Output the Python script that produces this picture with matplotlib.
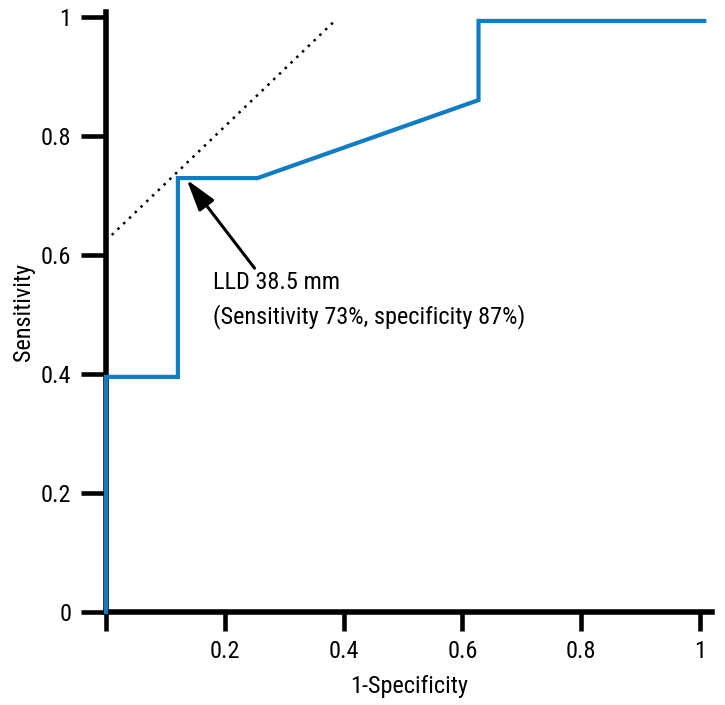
import matplotlib
matplotlib.use("Agg")
import matplotlib.pyplot as plt
from matplotlib import font_manager

# ROC curve points
fpr = [0.0, 0.0, 0.121, 0.121, 0.255, 0.627, 0.627, 1.007]
tpr = [0.0, 0.395, 0.395, 0.729, 0.729, 0.86, 0.993, 0.993]

# dotted tangent line
tan_x = [0.0, 0.387]
tan_y = [0.624, 0.995]

cut_x, cut_y = 0.133, 0.73
xticks = [0, 0.2, 0.4, 0.6, 0.8, 1]
xticklabels = ["", "0.2", "0.4", "0.6", "0.8", "1"]
yticks = [0, 0.2, 0.4, 0.6, 0.8, 1]
yticklabels = ["0", "0.2", "0.4", "0.6", "0.8", "1"]

# look for a condensed sans font, the original uses a narrow one
def is_narrow(f):
    st = str(f.stretch).lower()
    return "narrow" in f.name.lower() or "condensed" in f.name.lower() or "condensed" in st

order = ["Liberation Sans Narrow", "Roboto Condensed", "Roboto", "Noto Sans", "Open Sans", "DejaVu Sans"]
cands = [f for f in font_manager.fontManager.ttflist
         if is_narrow(f) and f.style == "normal" and str(f.weight) in ("400", "normal", "regular")
         and "semi" not in str(f.stretch).lower()]
cands.sort(key=lambda f: order.index(f.name) if f.name in order else 99)
if cands:
    fp = font_manager.FontProperties(fname=cands[0].fname)
else:
    fp = font_manager.FontProperties(family="DejaVu Sans", stretch="condensed")
fsize = 17.5

fig = plt.figure(figsize=(7.25, 7.05), dpi=100)
ax = fig.add_axes([106 / 725, 93 / 705, 606 / 725, 600 / 705])

ax.plot(fpr, tpr, color="#0f7cc4", lw=3, solid_joinstyle="miter", clip_on=False, zorder=3)
ax.plot(tan_x, tan_y, color="black", lw=1.8, ls=(0, (1, 2.2)), clip_on=False)

ax.annotate("LLD 38.5 mm\n(Sensitivity 73%, specificity 87%)",
            xy=(cut_x, cut_y), xytext=(0.180, 0.573),
            fontproperties=fp, fontsize=fsize, ha="left", va="top", linespacing=1.5,
            arrowprops=dict(arrowstyle="-|>,head_length=1.1,head_width=0.33",
                            color="black", lw=2.2, shrinkA=0, shrinkB=2,
                            relpos=(0.14, 1.0)))

ax.set_xlim(0, 1.02)
ax.set_ylim(0, 1.008)
for s in ["top", "right"]:
    ax.spines[s].set_visible(False)
for s in ["left", "bottom"]:
    ax.spines[s].set_linewidth(4)
ax.set_xticks(xticks)
ax.set_xticklabels(xticklabels, fontproperties=fp, fontsize=fsize)
ax.set_yticks(yticks)
ax.set_yticklabels(yticklabels, fontproperties=fp, fontsize=fsize)
ax.tick_params(direction="out", width=3.3)
ax.tick_params(axis="y", length=18, pad=7)
ax.tick_params(axis="x", length=14, pad=6)
ax.set_xlabel("1-Specificity", fontproperties=fp, fontsize=fsize, labelpad=9)
ax.set_ylabel("Sensitivity", fontproperties=fp, fontsize=fsize, labelpad=4)

fig.savefig("out.png", dpi=100)
